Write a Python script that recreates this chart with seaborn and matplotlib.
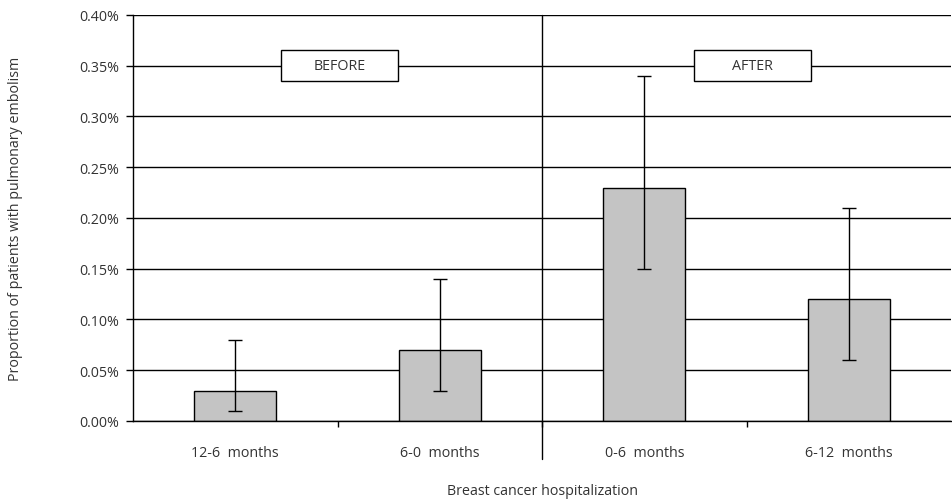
import seaborn as sns
from matplotlib import pyplot as plt
from matplotlib.patches import Rectangle
from matplotlib.ticker import FuncFormatter, FixedLocator
import pandas as pd

periods = ["12-6  months", "6-0  months", "0-6  months", "6-12  months"]
proportion = [0.03, 0.07, 0.23, 0.12]
ci_low = [0.01, 0.03, 0.15, 0.06]
ci_high = [0.08, 0.14, 0.34, 0.21]
phase_labels = ["BEFORE", "AFTER"]

data = pd.DataFrame({"period": periods, "proportion": proportion})

sns.set_style("white")
plt.rcParams["font.family"] = ["Open Sans", "DejaVu Sans"]
plt.rcParams["font.size"] = 10

txt_color = "#333333"
fs = 10.3

fig = plt.figure(figsize=(9.52, 5.02), dpi=100)
ax = fig.add_axes([0.1397, 0.1594, 0.8593, 0.8088])

sns.barplot(x="period", y="proportion", data=data, color="#c4c4c4",
            edgecolor="black", linewidth=1.0, width=0.4, saturation=1, ax=ax)

yerr = [[p - lo for p, lo in zip(proportion, ci_low)],
        [hi - p for p, hi in zip(proportion, ci_high)]]
ax.errorbar(range(len(periods)), proportion, yerr=yerr, fmt="none",
            ecolor="black", elinewidth=1.0, capsize=5, capthick=1.0)

ax.set_xlim(-0.5, 3.5)
ax.set_ylim(0, 0.40)
ax.yaxis.set_major_locator(FixedLocator([i * 0.05 for i in range(9)]))
ax.yaxis.set_major_formatter(FuncFormatter(lambda v, _: f"{v:.2f}%"))
ax.grid(axis="y", color="black", linewidth=1.0)
ax.set_axisbelow(True)

ax.set_xticks([0.5, 1.5, 2.5])
ax.set_xticklabels([])
ax.set_xticks(range(len(periods)), minor=True)
ax.set_xticklabels(periods, minor=True)
ax.tick_params(axis="x", which="major", direction="out", length=4, width=1, color="black")
ax.tick_params(axis="x", which="minor", length=0, pad=17, labelsize=fs, labelcolor=txt_color)
ax.tick_params(axis="y", direction="out", length=5, width=1, color="black",
               labelsize=fs, labelcolor=txt_color, pad=5)
ax.tick_params(left=True, bottom=True)

for side in ["top", "right"]:
    ax.spines[side].set_visible(False)
for side in ["left", "bottom"]:
    ax.spines[side].set_color("black")
    ax.spines[side].set_linewidth(1.0)

# divider between before and after
ax.plot([1.5, 1.5], [-0.037, 0.40], color="black", linewidth=1.0, clip_on=False)

# phase boxes
for cx, label in zip([0.51, 2.53], phase_labels):
    ax.add_patch(Rectangle((cx - 0.2875, 0.3352), 0.575, 0.0303,
                           facecolor="white", edgecolor="black", linewidth=1.0, zorder=3))
    ax.text(cx, 0.3503, label, ha="center", va="center", fontsize=fs,
            color=txt_color, zorder=4)

ax.set_xlabel("Breast cancer hospitalization", fontsize=fs, color=txt_color)
ax.set_ylabel("Proportion of patients with pulmonary embolism", fontsize=fs,
              color=txt_color)
ax.xaxis.set_label_coords(0.5, -0.172)
ax.yaxis.set_label_coords(-0.144, 0.5)
ax.xaxis.label.set_va("center")
ax.yaxis.label.set_va("center")

fig.savefig("out.png", dpi=100)
